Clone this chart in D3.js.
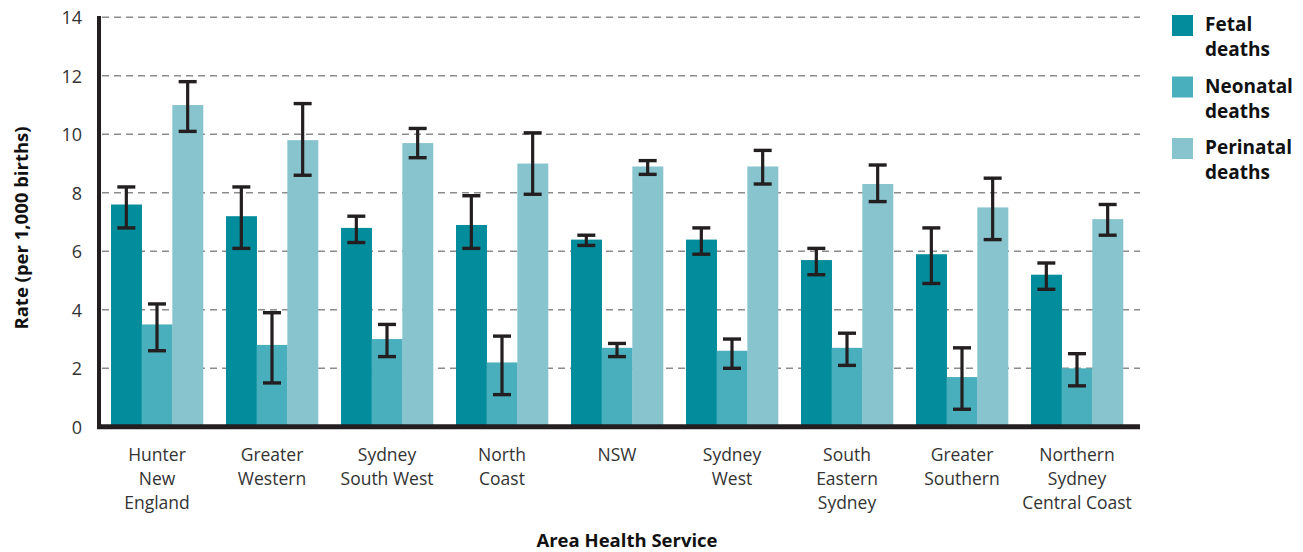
<!DOCTYPE html>
<html><head><meta charset="utf-8">
<script src="https://cdn.jsdelivr.net/npm/d3@7"></script>
<style>
body{margin:0;background:#fff;}
text{font-family:"Open Sans","Noto Sans",sans-serif;}
</style></head>
<body><svg id="c" width="1303" height="552"></svg>
<script>
const categories = [["Hunter","New","England"],["Greater","Western"],["Sydney","South West"],["North","Coast"],["NSW"],["Sydney","West"],["South","Eastern","Sydney"],["Greater","Southern"],["Northern","Sydney","Central Coast"]];
const seriesNames = ["Fetal deaths","Neonatal deaths","Perinatal deaths"];
const fetal      = [7.6, 7.2, 6.8, 6.9, 6.4, 6.4, 5.7, 5.9, 5.2];
const fetalLo    = [6.8, 6.1, 6.3, 6.1, 6.2, 5.9, 5.2, 4.9, 4.7];
const fetalHi    = [8.2, 8.2, 7.2, 7.9, 6.55, 6.8, 6.1, 6.8, 5.6];
const neonatal   = [3.5, 2.8, 3.0, 2.2, 2.7, 2.6, 2.7, 1.7, 2.0];
const neonatalLo = [2.6, 1.5, 2.4, 1.1, 2.4, 2.0, 2.1, 0.6, 1.4];
const neonatalHi = [4.2, 3.9, 3.5, 3.1, 2.85, 3.0, 3.2, 2.7, 2.5];
const perinatal  = [11.0, 9.8, 9.7, 9.0, 8.9, 8.9, 8.3, 7.5, 7.1];
const perinatalLo= [10.1, 8.6, 9.2, 7.95, 8.63, 8.3, 7.7, 6.4, 6.55];
const perinatalHi= [11.8, 11.05, 10.2, 10.05, 9.1, 9.45, 8.95, 8.5, 7.6];
const yTicks = [0,2,4,6,8,10,12,14];
const colors = ["#038c9b","#4aafbc","#88c4ce"];

const series = [[fetal,fetalLo,fetalHi],[neonatal,neonatalLo,neonatalHi],[perinatal,perinatalLo,perinatalHi]];
const svg = d3.select("#c");
const keys = categories.map(c=>c.join(" "));
const x = d3.scaleBand().domain(keys).range([99.5,1134.5]).paddingInner(0.2).paddingOuter(0.1);
const xs = d3.scaleBand().domain([0,1,2]).range([0,x.bandwidth()]);
const y = d3.scaleLinear().domain([0,14]).range([426.8,17.3]);

// grid
svg.append("g").selectAll("line").data(yTicks.filter(d=>d>0)).join("line")
  .attr("x1",102).attr("x2",1140).attr("y1",d=>y(d)).attr("y2",d=>y(d))
  .attr("stroke","#8c8c8c").attr("stroke-width",1.5).attr("stroke-dasharray","7,5");

// bars
series.forEach((s,si)=>{
  svg.append("g").selectAll("rect").data(keys).join("rect")
    .attr("x",(k,i)=>x(k)+xs(si)).attr("width",xs.bandwidth()+0.3)
    .attr("y",(k,i)=>y(s[0][i])).attr("height",(k,i)=>y(0)-y(s[0][i]))
    .attr("fill",colors[si]);
});
// error bars
series.forEach((s,si)=>{
  const g = svg.append("g").attr("stroke","#231f20");
  keys.forEach((k,i)=>{
    const cx = x(k)+xs(si)+xs.bandwidth()/2;
    g.append("line").attr("x1",cx).attr("x2",cx).attr("y1",y(s[1][i])).attr("y2",y(s[2][i])).attr("stroke-width",3.2);
    [s[1][i],s[2][i]].forEach(v=>g.append("line").attr("x1",cx-9).attr("x2",cx+9).attr("y1",y(v)).attr("y2",y(v)).attr("stroke-width",3.4));
  });
});

// axes lines
svg.append("line").attr("x1",99).attr("x2",99).attr("y1",16).attr("y2",429).attr("stroke","#231f20").attr("stroke-width",4);
svg.append("line").attr("x1",97).attr("x2",1140).attr("y1",y(0)).attr("y2",y(0)).attr("stroke","#231f20").attr("stroke-width",5);

// y tick labels
const yAxis = d3.axisLeft(y).tickValues(yTicks).tickSize(0).tickPadding(0);
const ya = svg.append("g").attr("transform","translate(82,0)").call(yAxis);
ya.select(".domain").remove();
ya.selectAll("text").attr("font-size",18).attr("fill","#333").attr("font-family","'Open Sans',sans-serif").attr("dy","0.35em");

// x labels
const xg = svg.append("g");
categories.forEach((c,i)=>{
  const t = xg.append("text").attr("x",x(keys[i])+x.bandwidth()/2).attr("y",461).attr("text-anchor","middle").attr("font-size",17.5).attr("fill","#333");
  c.forEach((l,j)=>t.append("tspan").attr("x",x(keys[i])+x.bandwidth()/2).attr("dy",j?24:0).text(l));
});

// titles
svg.append("text").attr("transform","translate(28,228) rotate(-90)").attr("text-anchor","middle")
  .attr("font-size",18.5).attr("font-weight","bold").attr("fill","#111").text("Rate (per 1,000 births)");
svg.append("text").attr("x",627).attr("y",547).attr("text-anchor","middle")
  .attr("font-size",18.5).attr("font-weight","bold").attr("fill","#111").text("Area Health Service");

// legend
seriesNames.forEach((n,i)=>{
  const g = svg.append("g").attr("transform",`translate(1172,${15+i*61.5})`);
  g.append("rect").attr("width",21).attr("height",21).attr("fill",colors[i]);
  const parts = n.split(" ");
  const t = g.append("text").attr("x",33).attr("y",16).attr("font-size",19).attr("font-weight","bold").attr("fill","#111");
  parts.forEach((p,j)=>t.append("tspan").attr("x",33).attr("dy",j?25:0).text(p));
});
</script></body></html>
